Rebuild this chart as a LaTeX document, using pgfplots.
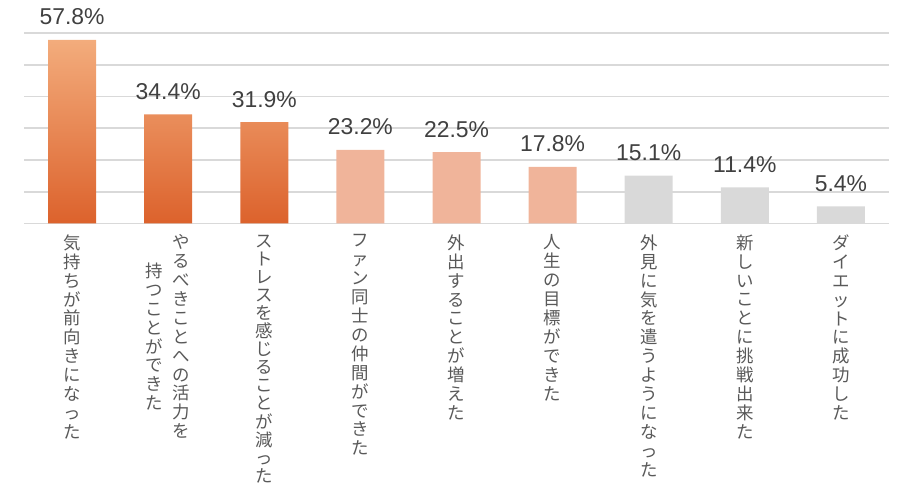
\documentclass[border=0pt]{standalone}
\usepackage{pgfplots}
\pgfplotsset{compat=1.18}
\usepackage{fontspec}
\setmainfont{Liberation Sans}
\newfontfamily\jp{Noto Sans CJK JP}

\definecolor{orlight}{HTML}{F3AC7C}
\definecolor{ordark}{HTML}{DC622C}
\definecolor{salmon}{HTML}{F0B49A}
\definecolor{lgray}{HTML}{D9D9D9}
\definecolor{txt}{HTML}{595959}
\definecolor{val}{HTML}{404040}

% stack characters top to bottom (tategaki)
\makeatletter
\def\vspitch{18.9bp}
\def\vs@end{\vs@end}
\protected\def\vstack#1{\vtop{\baselineskip=\vspitch\lineskiplimit=-\maxdimen\lineskip=0pt\vs@loop#1\vs@end}}
\def\vs@loop#1{\ifx\vs@end#1\else\hbox to 18bp{\hss#1\hss}\expandafter\vs@loop\fi}
\makeatother
\protected\def\twocol#1#2{\hbox{$\vcenter{\vstack{#1}}$\hskip9bp$\vcenter{\vstack{#2}}$}}

\begin{document}
\begin{tikzpicture}[x=1bp,y=1bp]
\path[use as bounding box] (-24,-269.5) rectangle (883,223.5);
\begin{axis}[
    at={(0,0)}, anchor=south west,
    scale only axis,
    width=865bp, height=190.5bp,
    xmin=-0.5, xmax=8.5,
    ymin=0, ymax=60,
    ytick={0,10,...,60},
    yticklabels={},
    ymajorgrids,
    grid style={draw=lgray, line width=1.6bp},
    axis line style={draw=none},
    major tick length=0pt,
    xtick={0,...,8},
    xticklabels={
        {\vstack{気持ちが前向きになった}},
        {\twocol{持つことができた}{やるべきことへの活力を}},
        {\def\vspitch{18.1bp}\vstack{ストレスを感じることが減った}},
        {\vstack{ファン同士の仲間ができた}},
        {\vstack{外出することが増えた}},
        {\vstack{人生の目標ができた}},
        {\vstack{外見に気を遣うようになった}},
        {\vstack{新しいことに挑戦出来た}},
        {\vstack{ダイエットに成功した}}},
    xticklabel style={anchor=north, inner sep=0pt, yshift=-11bp,
        font=\jp\fontsize{17.5}{19}\selectfont, text=txt},
    ybar, bar width=48bp, bar shift=0pt,
    nodes near coords={\pgfmathprintnumber[fixed,fixed zerofill,precision=1,assume math mode=true]{\pgfplotspointmeta}\%},
    every node near coord/.append style={anchor=base, inner sep=0pt, yshift=15bp,
        font=\fontsize{23}{26}\selectfont, text=val},
]
\addplot[draw=none, top color=orlight, middle color=ordark!85!orlight, bottom color=ordark]
    coordinates {(0,57.8) (1,34.4) (2,31.9)};
\addplot[draw=none, fill=salmon]
    coordinates {(3,23.2) (4,22.5) (5,17.8)};
\addplot[draw=none, fill=lgray]
    coordinates {(6,15.1) (7,11.4) (8,5.4)};
\end{axis}
\end{tikzpicture}
\end{document}
